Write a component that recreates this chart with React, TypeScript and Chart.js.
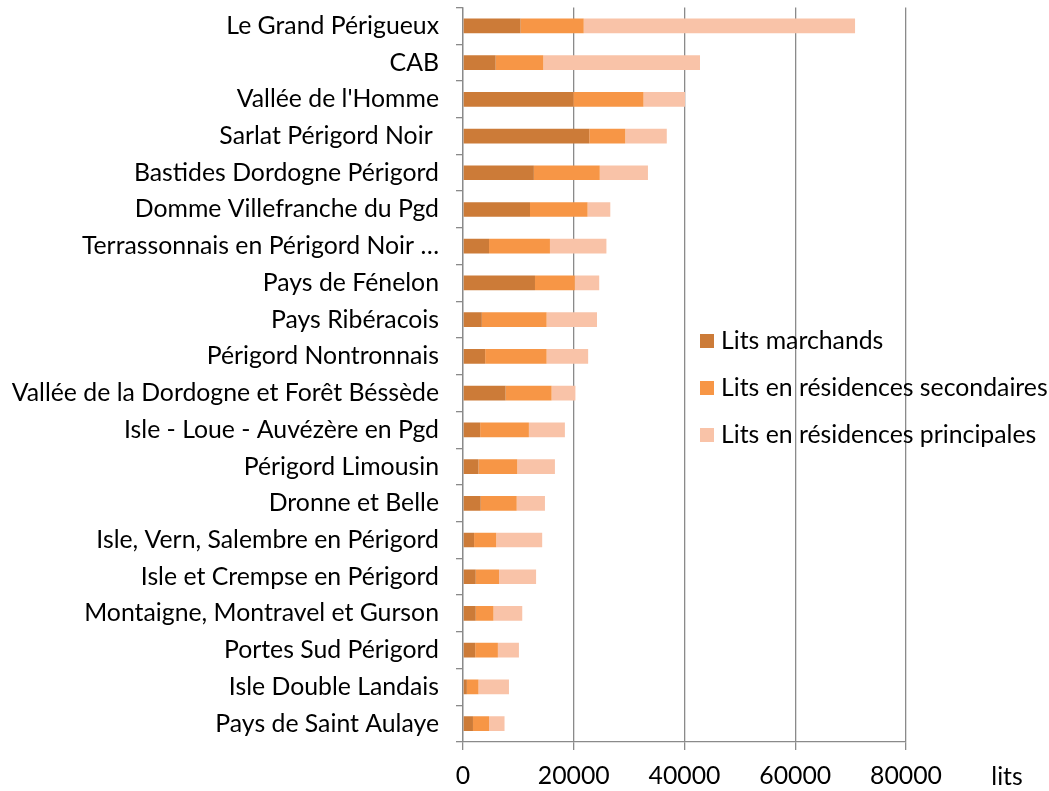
import React, { useEffect, useRef } from "react";
import { Chart, registerables } from "chart.js";

Chart.register(...registerables);

const categories = [
  "Le Grand Périgueux",
  "CAB",
  "Vallée de l'Homme",
  "Sarlat Périgord Noir ",
  "Bastides Dordogne Périgord",
  "Domme Villefranche du Pgd",
  "Terrassonnais en Périgord Noir …",
  "Pays de Fénelon",
  "Pays Ribéracois",
  "Périgord Nontronnais",
  "Vallée de la Dordogne et Forêt Béssède",
  "Isle - Loue - Auvézère en Pgd",
  "Périgord Limousin",
  "Dronne et Belle",
  "Isle, Vern, Salembre en Périgord",
  "Isle et Crempse en Périgord",
  "Montaigne, Montravel et Gurson",
  "Portes Sud Périgord",
  "Isle Double Landais",
  "Pays de Saint Aulaye",
];

const litsMarchands = [
  10400, 5900, 19900, 22800, 12800, 12100, 4700, 13000, 3400, 4000,
  7700, 3100, 2800, 3200, 2000, 2300, 2300, 2200, 700, 1800,
];
const litsSecondaires = [
  11400, 8600, 12700, 6500, 11900, 10400, 11000, 7200, 11700, 11100,
  8300, 8800, 7000, 6500, 4000, 4200, 3200, 4100, 2100, 2900,
];
const litsPrincipales = [
  49000, 28300, 7500, 7500, 8700, 4100, 10200, 4400, 9100, 7500,
  4300, 6500, 6800, 5100, 8300, 6700, 5200, 3800, 5500, 2800,
];

const seriesLabels = [
  "Lits marchands",
  "Lits en résidences secondaires",
  "Lits en résidences principales",
];
const seriesColors = ["#CC7B38", "#F79646", "#F9C3A8"];
const xTicks = [0, 20000, 40000, 60000, 80000];
const axisTitle = "lits";

const FONT = "Lato, 'Open Sans', sans-serif";
const FSIZE = 24.8;
const GRID = "#8a8a8a";

const overlayPlugin = {
  id: "overlay",
  afterDraw(chart: any) {
    const ctx = chart.ctx;
    ctx.save();
    ctx.font = `${FSIZE}px ${FONT}`;
    ctx.textBaseline = "middle";
    ctx.textAlign = "left";
    const x0 = 700;
    const ys = [341, 388, 435];
    chart.data.datasets.forEach((ds: any, i: number) => {
      ctx.fillStyle = ds.backgroundColor;
      ctx.fillRect(x0, ys[i] - 7, 14, 14);
      ctx.fillStyle = "#000";
      ctx.fillText(ds.label, x0 + 21, ys[i]);
    });
    ctx.textAlign = "center";
    ctx.fillText(axisTitle, 1007, 777);
    ctx.restore();
  },
};

export default function App() {
  const ref = useRef<HTMLCanvasElement>(null);
  useEffect(() => {
    if (!ref.current) return;
    const chart = new Chart(ref.current, {
      type: "bar",
      data: {
        labels: categories,
        datasets: [litsMarchands, litsSecondaires, litsPrincipales].map((d, i) => ({
          label: seriesLabels[i],
          data: d,
          backgroundColor: seriesColors[i],
          borderWidth: 0,
          barPercentage: 0.4,
          categoryPercentage: 1,
        })),
      },
      options: {
        indexAxis: "y",
        animation: false,
        responsive: false,
        layout: { padding: { top: 7.5, right: 143, bottom: 0, left: 0 } },
        plugins: {
          legend: { display: false },
          tooltip: { enabled: false },
        },
        scales: {
          x: {
            stacked: true,
            min: 0,
            max: 80000,
            afterBuildTicks: (scale: any) => {
              scale.ticks = xTicks.map((v) => ({ value: v }));
            },
            afterFit: (scale: any) => {
              scale.height = 49;
              scale.paddingLeft = 0;
              scale.paddingRight = 0;
            },
            ticks: {
              font: { family: FONT, size: FSIZE },
              color: "#000",
              padding: 11,
              maxRotation: 0,
              callback: (v: any) => String(v),
            },
            grid: {
              color: GRID,
              lineWidth: 1.3,
              tickLength: 8,
              drawTicks: true,
            },
            border: { display: true, color: GRID, width: 1.3 },
          },
          y: {
            stacked: true,
            afterFit: (scale: any) => {
              scale.width = 463;
              scale.paddingTop = 0;
              scale.paddingBottom = 0;
            },
            ticks: {
              font: { family: FONT, size: FSIZE },
              color: "#000",
              padding: 17,
              autoSkip: false,
            },
            grid: {
              offset: true,
              drawOnChartArea: false,
              drawTicks: true,
              tickLength: 7,
              color: GRID,
              lineWidth: 1.3,
            },
            border: { display: true, color: GRID, width: 1.3 },
          },
        },
      },
      plugins: [overlayPlugin],
    } as any);
    return () => chart.destroy();
  }, []);
  return (
    <div style={{ position: "fixed", left: 0, top: 0, width: 1049, height: 791, background: "#fff" }}>
      <canvas ref={ref} width={1049} height={791} />
    </div>
  );
}
